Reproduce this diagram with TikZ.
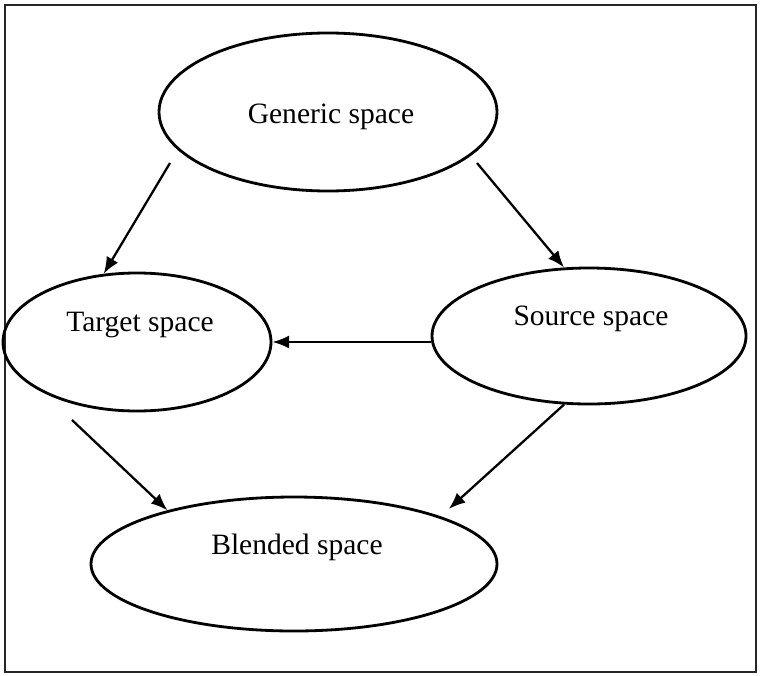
\documentclass[tikz,border=0pt]{standalone}
\usepackage{fontspec}
\setmainfont{Liberation Serif}
\usetikzlibrary{shapes.geometric,arrows.meta}

\begin{document}
\begin{tikzpicture}[scale=0.2,
        spacenode/.style={draw=black, ellipse, line width=1.6pt, inner sep=0pt},
        spacetext/.style={inner sep=0pt, font=\fontsize{16.8}{20}\selectfont},
        link/.style={draw=black, line width=1.3pt, -{Latex[length=9.5pt,width=7.5pt]}}]
        \useasboundingbox (0,0) rectangle (76.2,-67.5);
        \draw [black!85, line width=0.8pt] (0.5,-0.5) rectangle (75.6,-67.2);
        % the four spaces
        \node [spacenode, minimum width=6.76cm, minimum height=3.16cm] (gen) at (32.8,-11.2) {};
        \node [spacenode, minimum width=5.36cm, minimum height=2.76cm] (tgt) at (13.7,-34.2) {};
        \node [spacenode, minimum width=6.28cm, minimum height=2.72cm] (src) at (58.9,-33.6) {};
        \node [spacenode, minimum width=8.12cm, minimum height=2.68cm] (bld) at (29.4,-56.4) {};
        \node [spacetext] (gentxt) at (33.1,-11.7) {Generic space};
        \node [spacetext] (tgttxt) at (14.0,-32.5) {Target space};
        \node [spacetext] (srctxt) at (59.1,-31.9) {Source space};
        \node [spacetext] (bldtxt) at (29.7,-54.7) {Blended space};
        % arrows
        \coordinate (gen-l) at (17,-16.3);
        \coordinate (gen-r) at (47.7,-16.3);
        \coordinate (tgt-b) at (7.2,-42);
        \draw [link] (gen-l) -- (tgt.116);
        \draw [link] (gen-r) -- (src.110);
        \draw [link] (tgt.east -| src.west) -- (tgt.east);
        \draw [link] (tgt-b) -- (bld.157);
        \draw [link, shorten >=0.22cm] (src.250) -- (bld.18);
\end{tikzpicture}
\end{document}
